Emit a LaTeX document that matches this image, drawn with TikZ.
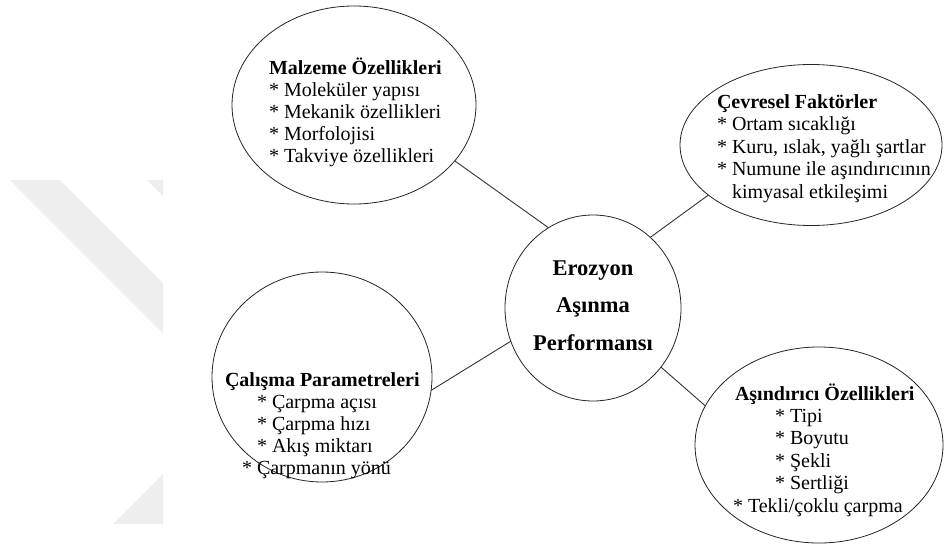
\documentclass[tikz,border=0pt]{standalone}
\usepackage{fontspec}
\setmainfont{Liberation Serif}
\usetikzlibrary{shapes.geometric}
\definecolor{wm}{HTML}{EEEEEE}
\tikzset{
  bubble/.style={ellipse, draw=black!85, line width=0.8pt, inner sep=0pt, outer sep=0pt},
  link/.style={draw=black!80, line width=0.9pt},
  txt/.style={inner sep=0pt, outer sep=0pt, align=left, anchor=base west},
}
\begin{document}
\begin{tikzpicture}[x=1pt,y=-1pt]
\useasboundingbox[fill=white] (0,0) rectangle (944,554);
% faint watermark
\fill[wm] (10,180) -- (60,180) -- (163,283) -- (163,333) -- cycle;
\fill[wm] (147,180) -- (163,180) -- (163,196) -- cycle;
\fill[wm] (113,524) -- (163,474) -- (163,524) -- cycle;
% bubbles
\node[bubble, minimum width=244pt, minimum height=198pt] (mal) at (354,105) {};
\node[bubble, minimum width=262pt, minimum height=161pt] (cev) at (811,145) {};
\node[bubble, minimum width=220pt, minimum height=210pt] (cal) at (322,377) {};
\node[bubble, minimum width=248pt, minimum height=196pt] (asi) at (819,445) {};
\node[bubble, minimum width=176pt, minimum height=186pt] (cen) at (593,308) {};
% texts (anchor = baseline of last line)
\node[txt, font=\fontsize{20}{21.8}\selectfont] (maltxt) at (269,162)
  {\textbf{Malzeme Özellikleri}\\{*} Moleküler yapısı\\{*} Mekanik özellikleri\\{*} Morfolojisi\\{*} Takviye özellikleri};
\node[txt, font=\fontsize{20}{22.5}\selectfont] (cevtxt) at (717,198)
  {\textbf{Çevresel Faktörler}\\{*} Ortam sıcaklığı\\{*} Kuru, ıslak, yağlı şartlar\\{*} Numune ile aşındırıcının\\\phantom{*} kimyasal etkileşimi};
\node[txt, font=\fontsize{20}{21.8}\selectfont] (caltxt) at (225,474)
  {\textbf{Çalışma Parametreleri}\\\hspace*{32pt}{*} Çarpma açısı\\\hspace*{32pt}{*} Çarpma hızı\\\hspace*{32pt}{*} Akış miktarı\\\hspace*{17pt}{*} Çarpmanın yönü};
\node[txt, font=\fontsize{20}{22.4}\selectfont] (asitxt) at (733,512)
  {\hspace*{2pt}\textbf{Aşındırıcı Özellikleri}\\\hspace*{42pt}{*} Tipi\\\hspace*{42pt}{*} Boyutu\\\hspace*{42pt}{*} Şekli\\\hspace*{42pt}{*} Sertliği\\{*} Tekli/çoklu çarpma};
\node[inner sep=0pt, outer sep=0pt, align=center, anchor=base, font=\fontsize{22.5}{37.5}\selectfont\bfseries] (centxt) at (593,350)
  {Erozyon\\Aşınma\\Performansı};
% connectors
\draw[link] (mal.-29) -- (cen.119.4);
\draw[link] (cev.-154) -- (cen.51);
\draw[link] (cal.-7) -- (cen.-158);
\draw[link] (asi.161) -- (cen.-41);
\end{tikzpicture}
\end{document}
